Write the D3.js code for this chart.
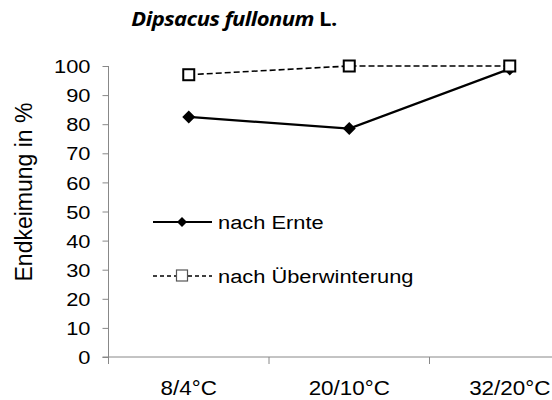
<!DOCTYPE html>
<html><head><meta charset="utf-8">
<script src="https://cdn.jsdelivr.net/npm/d3@7"></script>
<style>body{margin:0;background:#fff}svg{display:block}</style>
</head><body>
<svg id="c" width="552" height="400"></svg>
<script>
const categories = ["8/4°C", "20/10°C", "32/20°C"];
const nachErnte = [82.5, 78.5, 99];
const nachUeberwinterung = [97, 100, 100];
const yTicks = [0,10,20,30,40,50,60,70,80,90,100];
const seriesNames = ["nach Ernte", "nach Überwinterung"];

const svg = d3.select("#c");
const mLeft = 108.5, mTop = 66, mBottom = 357, mRight = 590;
const x = d3.scaleBand().domain(categories).range([mLeft, mRight]);
const y = d3.scaleLinear().domain([0, 100]).range([mBottom, mTop]);
const font = "Liberation Sans, Arial, sans-serif";
const SX = 1.15;

function stxt(g, px, py, str, size, anchor) {
  return g.append("text").attr("transform", `translate(${px},${py}) scale(${SX},1)`)
    .attr("text-anchor", anchor || "start")
    .style("font-family", font).style("font-size", size + "px").attr("fill", "#000").text(str);
}

// title
const t = svg.append("text").attr("transform", "translate(234,26) scale(1.1,1)").attr("text-anchor", "middle")
  .style("font-family", "Open Sans, sans-serif").style("font-size", "20px").style("font-weight", "bold")
  .style("letter-spacing", "-0.5px");
t.append("tspan").style("font-style", "italic").text("Dipsacus fullonum");
t.append("tspan").text(" L.");

// y axis
const ya = svg.append("g").attr("transform", `translate(${mLeft},0)`)
  .call(d3.axisLeft(y).tickValues(yTicks).tickSize(6).tickPadding(12));
ya.selectAll("path,line").attr("stroke", "#888");
ya.selectAll("text").attr("x", null).attr("dy", "0.35em")
  .attr("transform", `translate(-18,0) scale(${SX},1)`)
  .style("font-family", font).style("font-size", "19px").attr("fill", "#000");
ya.select(".domain").attr("d", `M0,${mTop}V${mBottom + 7}`);

// x axis
const xa = svg.append("g").attr("transform", `translate(0,${mBottom})`);
xa.append("line").attr("x1", mLeft - 6).attr("x2", 552).attr("stroke", "#888");
const bounds = categories.slice(1).map(c => x(c));
xa.selectAll("line.tk").data(bounds).join("line").attr("class","tk")
  .attr("x1", d => d).attr("x2", d => d).attr("y1", 0).attr("y2", 7).attr("stroke", "#888");
categories.forEach(c => stxt(xa, x(c) + x.bandwidth()/2, 38, c, 19.5, "middle"));

// y title
svg.append("text").attr("transform", "translate(32,192) rotate(-90)").attr("text-anchor", "middle")
  .style("font-family", font).style("font-size", "23px").text("Endkeimung in %");

const cx = c => x(c) + x.bandwidth()/2;
const line = d3.line().x((d,i) => cx(categories[i])).y(d => y(d));

svg.append("path").datum(nachUeberwinterung).attr("d", line).attr("fill", "none")
  .attr("stroke", "#000").attr("stroke-width", 1.6).attr("stroke-dasharray", "6,3");
svg.append("path").datum(nachErnte).attr("d", line).attr("fill", "none")
  .attr("stroke", "#000").attr("stroke-width", 2.3);

const diamond = (g, px, py, s) => g.append("path")
  .attr("d", `M${px},${py-s}L${px+s},${py}L${px},${py+s}L${px-s},${py}Z`).attr("fill", "#000");
const square = (g, px, py, s, sw, col) => g.append("rect").attr("x", px-s).attr("y", py-s)
  .attr("width", 2*s).attr("height", 2*s).attr("fill", "#fff").attr("stroke", col || "#000").attr("stroke-width", sw);

nachErnte.forEach((v,i) => diamond(svg, cx(categories[i]), y(v), 6.5));
nachUeberwinterung.forEach((v,i) => square(svg, cx(categories[i]), y(v), 5.5, 2));

// legend
const lg = svg.append("g");
lg.append("line").attr("x1", 153).attr("x2", 212).attr("y1", 222).attr("y2", 222).attr("stroke", "#000").attr("stroke-width", 2);
diamond(lg, 182, 222, 5);
stxt(lg, 218, 229, seriesNames[0], 19);
lg.append("line").attr("x1", 153).attr("x2", 212).attr("y1", 276).attr("y2", 276).attr("stroke", "#000").attr("stroke-width", 1.3).attr("stroke-dasharray", "4,3");
square(lg, 182, 275.5, 5.5, 1.2, "#555");
stxt(lg, 218, 283, seriesNames[1], 19);
</script>
</body></html>
